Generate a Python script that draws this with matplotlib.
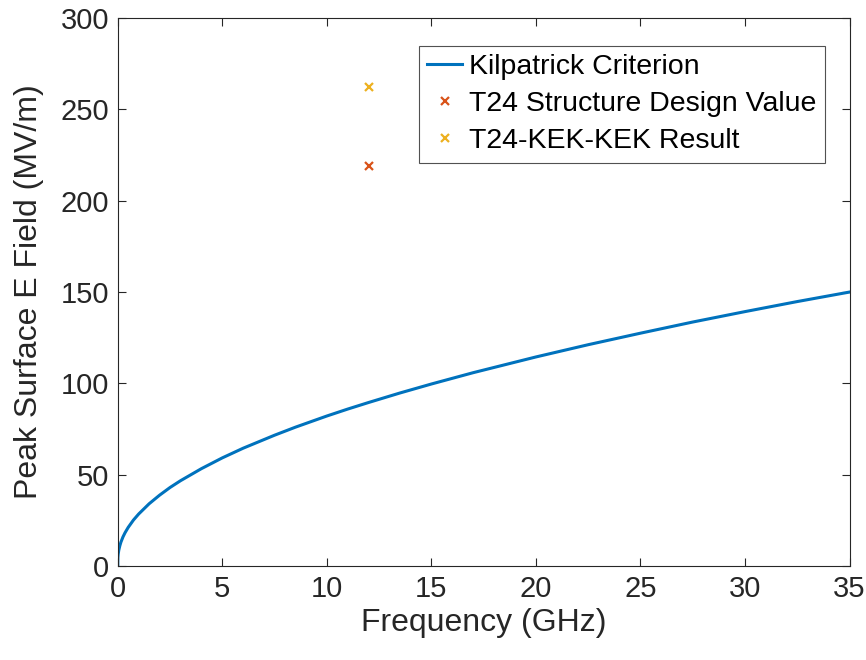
import matplotlib
matplotlib.use('Agg')
import matplotlib.pyplot as plt

plt.rcParams['font.family'] = ['Liberation Sans', 'DejaVu Sans']

# Kilpatrick criterion (GHz, MV/m)
freq_ghz = [0, 0.002, 0.005, 0.01, 0.02, 0.05, 0.1, 0.15, 0.25, 0.35, 0.5, 0.75,
            1, 1.5, 2, 2.5, 3, 4, 5, 6, 7.5, 8.5, 10, 11, 12, 13.5, 15, 17,
            20, 22.5, 25, 27.5, 30, 32.5, 35]
e_kilp = [0, 3.6, 4.5, 5.4, 6.7, 8.9, 11.3, 13.2, 16.1, 18.4, 21.3, 25.3,
          28.6, 34.2, 38.9, 43.1, 46.8, 53.4, 59.3, 64.6, 71.7, 76.1, 82.2, 86.0, 89.6, 94.8, 99.7, 105.9,
          114.5, 121.2, 127.5, 133.6, 139.3, 144.8, 150.0]

# single points at 12 GHz
t24_freq = [12]
t24_design = [219]
t24_kek = [262]

fig = plt.figure(figsize=(8.66, 6.6), dpi=100)
ax = fig.add_axes([0.136, 0.142, 0.845, 0.831])

ax.plot(freq_ghz, e_kilp, color='#0072BD', lw=2.2, label='Kilpatrick Criterion')
ax.plot(t24_freq, t24_design, 'x', color='#D95319', ms=6, mew=1.6, label='T24 Structure Design Value')
ax.plot(t24_freq, t24_kek, 'x', color='#EDB120', ms=6, mew=1.6, label='T24-KEK-KEK Result')

ax.set_xlim(0, 35)
ax.set_ylim(0, 300)
ax.set_xticks(range(0, 36, 5))
ax.set_yticks(range(0, 301, 50))
ax.tick_params(direction='in', length=6, width=0.8, top=True, right=True,
               labelsize=21, colors='#262626', pad=6)
for s in ax.spines.values():
    s.set_color('#262626')
    s.set_linewidth(0.8)

ax.set_xlabel('Frequency (GHz)', fontsize=23, color='#262626', labelpad=4)
ax.set_ylabel('Peak Surface E Field (MV/m)', fontsize=23, color='#262626', labelpad=12)

leg = ax.legend(loc='upper right', bbox_to_anchor=(0.966, 0.949), borderaxespad=0,
                fontsize=20.5, frameon=True, fancybox=False, edgecolor='#262626',
                handlelength=1.2, handletextpad=0.25, borderpad=0.3, labelspacing=0.38)
leg.get_frame().set_linewidth(0.8)

fig.savefig('out.png', dpi=100)
